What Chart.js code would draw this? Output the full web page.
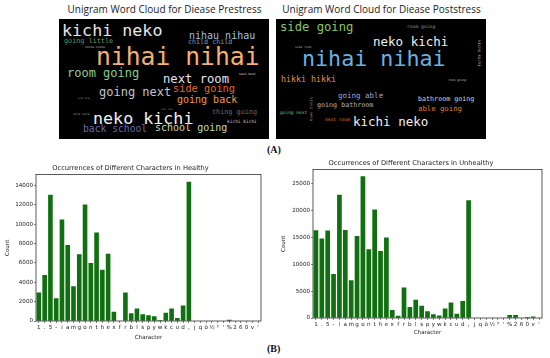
<!DOCTYPE html>
<html>
<head>
<meta charset="utf-8">
<script src="https://cdn.jsdelivr.net/npm/chart.js@4.4.1/dist/chart.umd.min.js"></script>
<style>
html, body { margin: 0; padding: 0; background: #fff; }
#page { position: relative; width: 550px; height: 358px; overflow: hidden; }
.cloud { position: absolute; background: #000; }
.word { position: absolute; white-space: nowrap; font-family: "DejaVu Sans Mono", monospace; line-height: 1; }
.ctitle { position: absolute; top: 3px; font-family: "Open Sans", sans-serif; font-size: 10px; line-height: 1.2; color: #222; white-space: nowrap; transform: translateX(-50%); }
.panel { position: absolute; font-family: "Liberation Serif", serif; font-weight: bold; font-size: 10px; line-height: 1; color: #111; }
.box { position: absolute; }
</style>
</head>
<body>
<div id="page">
  <div class="ctitle" style="left:164.5px">Unigram Word Cloud for Diease Prestress</div>
  <div class="ctitle" style="left:381.5px">Unigram Word Cloud for Diease Poststress</div>
  <div class="cloud" style="left:59px;top:19px;width:210px;height:120px"></div>
  <div class="cloud" style="left:276px;top:19px;width:210px;height:120px"></div>
  <div class="panel" style="left:267px;top:145px">(A)</div>
  <div class="panel" style="left:267px;top:344px">(B)</div>
  <div class="box" style="left:0px;top:160px;width:275px;height:190px"><canvas id="healthy" width="275" height="190"></canvas></div>
  <div class="box" style="left:280px;top:155px;width:270px;height:190px"><canvas id="unhealthy" width="270" height="190"></canvas></div>
</div>
<script>
// word clouds (bigrams)
const preWords = ['kichi neko', 'nihau nihau', 'child child', 'going little', 'nihai nihai', 'room going',
  'next room', 'going next', 'side going', 'going back', 'neko kichi', 'thing going', 'kichi kichi',
  'back school', 'school going', 'nihou nihou', 'hand hand', 'ura ura', 'oni oni', 'sore sore'];
const postWords = ['side going', 'room going', 'neko kichi', 'nihai nihai', 'hikki hikki', 'going able',
  'going bathroom', 'bathroom going', 'able going', 'going next', 'next room', 'kichi neko',
  'side room', 'room going', 'kichi kichi', 'hikki neko'];

// placement of the words: x, y, font size, colour, rotated
const preLayout = [
  [62, 22, 16.7, '#e6e6e6'], [189, 30.8, 10, '#9cc2e6'], [188, 38.7, 6.7, '#8a9aae'],
  [64, 38.4, 6.8, '#5f9f5f'], [96, 44.5, 24.7, '#f4b072'], [67, 67, 12, '#8ccc8c'],
  [163, 73, 12.2, '#e4e4ee'], [99, 86.4, 12, '#c4c4cc'], [173, 83.4, 10.3, '#e0682e'],
  [177, 95, 10, '#f09c44'], [93, 110.2, 16.7, '#f2f2f2'], [212, 109.4, 6.8, '#6c6c6c'],
  [227, 120.3, 4.5, '#d6d6d6'], [83, 124.1, 9.7, '#6a6aa8'], [155, 123, 10, '#c6dcb0'],
  [85, 45.5, 3, '#bbbbbb'], [239, 72.5, 3, '#cccccc'], [78, 96.5, 2.8, '#888888'],
  [161, 107.5, 2.8, '#888888'], [73, 112.5, 3, '#999999']
];
const postLayout = [
  [280, 20.6, 12.2, '#8cc46c'], [407, 24.6, 4.7, '#9a9a9a'], [373, 35.6, 12.5, '#f0f0f0'],
  [302, 48, 21.7, '#6cb0e0'], [281, 75.3, 8.3, '#e68c44'], [338, 92, 7.5, '#a2a2cc'],
  [317, 102, 6.7, '#b4b4bc'], [418, 96, 6.7, '#d2d2dc'], [418, 105.3, 7.3, '#e4782a'],
  [280, 111.2, 4.5, '#86c486'], [325, 117.8, 4.6, '#e4782e'], [353, 115.6, 12.5, '#f0f0f0'],
  [295, 45.5, 3, '#aaaaaa'], [448, 78.5, 3, '#bbbbbb'], [477, 40, 4, '#cccccc', true],
  [309, 97, 4, '#888888', true]
];

const page = document.getElementById('page');
function placeWords(words, layout) {
  words.forEach((w, i) => {
    const [x, y, size, color, rot] = layout[i];
    const s = document.createElement('span');
    s.className = 'word';
    s.textContent = w;
    s.style.left = (rot ? x + size : x) + 'px';
    s.style.top = y + 'px';
    s.style.fontSize = size + 'px';
    s.style.color = color;
    if (rot) { s.style.transformOrigin = '0 0'; s.style.transform = 'rotate(90deg)'; }
    page.appendChild(s);
  });
}
placeWords(preWords, preLayout);
placeWords(postWords, postLayout);

// character counts
const characters = ['1', '.', '5', '-', 'i', 'a', 'm', 'g', 'o', 'n', 't', 'h', 'e', 'x', 'f', 'r', 'b', 'l', 's',
  'p', 'y', 'w', 'k', 'c', 'u', 'd', ',', 'j', 'q', 'ö', '½', '³', "'", '%', '2', '6', '0', 'v', "'"];
const healthyCounts = [2950, 4750, 13050, 2350, 10500, 7850, 3600, 6900, 12050, 6000, 9150, 5300, 6950, 950, 0,
  2950, 800, 1300, 700, 600, 500, 100, 850, 1300, 300, 1600, 14400,
  0, 0, 0, 0, 0, 0, 120, 0, 0, 0, 0, 0];
const unhealthyCounts = [16300, 14800, 16250, 8200, 22900, 16350, 7000, 15250, 26350, 12800, 20150, 12450, 14950,
  1500, 400, 5650, 2050, 3400, 2300, 1250, 700, 450, 1750, 2900, 800, 3150, 21900,
  30, 30, 30, 30, 30, 30, 550, 550, 0, 200, 300, 0];
const healthyTicks = [0, 2000, 4000, 6000, 8000, 10000, 12000, 14000];
const unhealthyTicks = [0, 5000, 10000, 15000, 20000, 25000];

const axisFont = { family: 'DejaVu Sans', size: 5.6 };

const frame = {
  id: 'frame',
  afterDraw(chart) {
    const a = chart.chartArea, ctx = chart.ctx;
    ctx.save();
    ctx.strokeStyle = '#333';
    ctx.lineWidth = 0.8;
    ctx.strokeRect(a.left, a.top, a.right - a.left, a.bottom - a.top);
    ctx.restore();
  }
};

function makeChart(id, title, counts, ticks, yMax, yWidth, xHeight, pad, yTitlePad) {
  return new Chart(document.getElementById(id), {
    type: 'bar',
    data: {
      labels: characters,
      datasets: [{ data: counts, backgroundColor: '#107010', barPercentage: 0.8, categoryPercentage: 1.0 }]
    },
    options: {
      responsive: false,
      animation: false,
      layout: { padding: pad },
      plugins: {
        legend: { display: false },
        tooltip: { enabled: false },
        title: { display: true, text: title, color: '#222', font: { family: 'DejaVu Sans', size: 6.7, weight: 'normal' }, padding: { top: 4.3, bottom: 2.2 } }
      },
      scales: {
        x: {
          offset: true,
          grid: { display: true, drawOnChartArea: false, offset: false, tickLength: 2, color: '#333', lineWidth: 0.6 },
          border: { display: false },
          ticks: { autoSkip: false, maxRotation: 0, minRotation: 0, padding: 1, color: '#222', font: axisFont },
          title: { display: true, text: 'Character', color: '#222', font: axisFont, padding: 0 },
          afterFit(s) { s.height = xHeight; }
        },
        y: {
          min: 0,
          max: yMax,
          grid: { display: true, drawOnChartArea: false, tickLength: 2, color: '#333', lineWidth: 0.6 },
          border: { display: false },
          ticks: { padding: 1, color: '#222', font: axisFont, callback: v => String(v) },
          afterBuildTicks(s) { s.ticks = ticks.map(v => ({ value: v })); },
          title: { display: true, text: 'Count', color: '#222', font: axisFont, padding: { top: yTitlePad, bottom: 0 } },
          afterFit(s) { s.width = yWidth; }
        }
      }
    },
    plugins: [frame]
  });
}

makeChart('healthy', 'Occurrences of Different Characters in Healthy', healthyCounts, healthyTicks, 15150,
  36, 19.5, { left: 0, right: 14, top: 0, bottom: 9.5 }, 4);
makeChart('unhealthy', 'Occurrences of Different Characters in Unhealthy', unhealthyCounts, unhealthyTicks, 27600,
  33, 18, { left: 0, right: 8, top: 0, bottom: 9 }, 0);
</script>
</body>
</html>
